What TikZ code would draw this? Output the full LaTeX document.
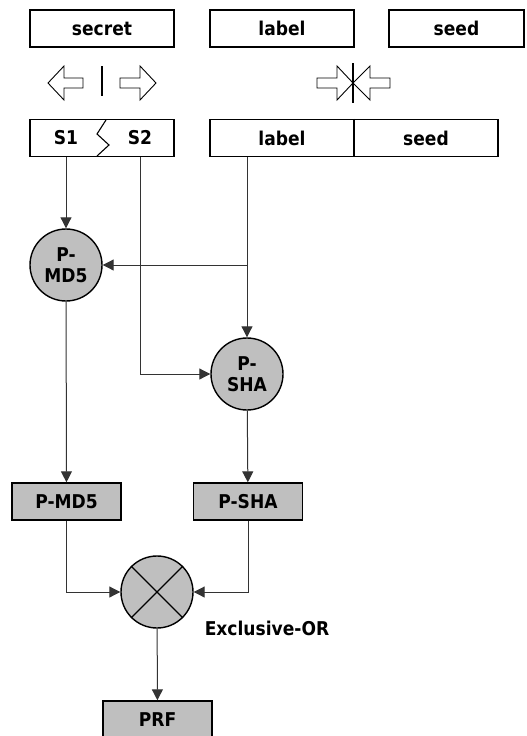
\documentclass[tikz,border=0pt]{standalone}
\usepackage{fontspec}
\setmainfont{DejaVu Sans Condensed}
\usetikzlibrary{arrows.meta}

\begin{document}
\begin{tikzpicture}[x=1pt, y=-1pt, font=\fontsize{19}{21}\selectfont\bfseries,
  box/.style={draw, line width=1.4pt, minimum width=144pt, minimum height=37pt, inner sep=0pt},
  grey box/.style={box, fill=black!25, minimum width=109pt},
  func/.style={circle, draw, line width=1.4pt, fill=black!25, minimum size=72pt, inner sep=0pt, align=center},
  link/.style={draw=black!80, line width=1pt, -{Triangle[length=11pt,width=11pt]}}]
  \useasboundingbox (0,0) rectangle (527,736);
  % Inputs
  \node[box] (secret) at (102,28.5) {secret};
  \node[box] (label) at (282,28.5) {label};
  \node[box, minimum width=135pt] (seed) at (456.5,28.5) {seed};
  % Split secret -- hollow arrows
  \draw[line width=0.9pt] (48,83) -- (64,66) -- (64,78) -- (83,78) -- (83,88) -- (64,88) -- (64,100) -- cycle;
  \draw[line width=0.9pt] (156,83) -- (140,66) -- (140,78) -- (120,78) -- (120,88) -- (140,88) -- (140,100) -- cycle;
  \draw[line width=1.1pt] (102,66) -- (102,96);
  % Join label and seed -- hollow arrows
  \draw[line width=0.9pt] (353,83) -- (337,66) -- (337,78) -- (317,78) -- (317,88) -- (337,88) -- (337,100) -- cycle;
  \draw[line width=0.9pt] (353,83) -- (370,66) -- (370,78) -- (390,78) -- (390,88) -- (370,88) -- (370,100) -- cycle;
  \draw[line width=1.1pt] (353,63) -- (353,103);
  % Split secret S1 / S2
  \node[box] (split) at (102,138) {};
  \node (s1) at (66,138) {S1};
  \node (s2) at (140,138) {S2};
  \draw[line width=1.1pt] (106,120) -- (97,134) -- (109,145) -- (97,156);
  % label + seed
  \node[box, minimum width=288pt] (concat) at (354,138) {};
  \draw[line width=1.4pt] (concat.north) -- (concat.south);
  \node (lab) at (282,138) {label};
  \node (sd) at (426,138) {seed};
  % Hash functions
  \node[func] (md5) at (66,265) {P-\\MD5};
  \node[func] (sha) at (247,374) {P-\\SHA};
  \coordinate (tap) at (sha |- md5);
  \draw[link] (split.south -| s1) -- (md5);
  \draw[link] (split.south -| s2) |- (sha);
  \draw[link] (concat.south -| sha) -- (sha);
  \draw[link] (tap) -- (md5);
  % Outputs
  \node[grey box] (outmd5) at (66.5,501.5) {P-MD5};
  \node[grey box] (outsha) at (248,501.5) {P-SHA};
  \draw[link] (md5) -- (outmd5);
  \draw[link] (sha) -- (outsha);
  % Exclusive-OR
  \node[func] (xor) at (157,592) {};
  \draw[line width=1.4pt] (xor.north west) -- (xor.south east);
  \draw[line width=1.4pt] (xor.north east) -- (xor.south west);
  \node (xorlabel) at (267,628) {Exclusive-OR};
  \draw[link] (outmd5) |- (xor);
  \draw[link] (outsha) |- (xor);
  % Result
  \node[grey box] (prf) at (157.5,719.5) {PRF};
  \draw[link] (xor) -- (prf);
\end{tikzpicture}
\end{document}
